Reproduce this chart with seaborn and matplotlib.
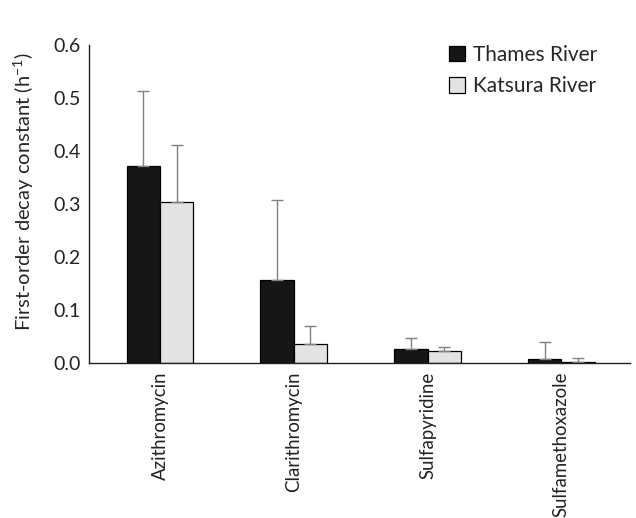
import numpy as np
import pandas as pd
import seaborn as sns
import matplotlib.pyplot as plt

sns.set_style('white')
plt.rcParams['font.family'] = ['Lato', 'DejaVu Sans']
plt.rcParams['mathtext.fontset'] = 'custom'
plt.rcParams['mathtext.rm'] = 'Lato'

# data
compounds = ['Azithromycin', 'Clarithromycin', 'Sulfapyridine', 'Sulfamethoxazole']
thames = [0.372, 0.156, 0.027, 0.007]
thames_err = [0.141, 0.152, 0.021, 0.033]
katsura = [0.304, 0.036, 0.022, 0.003]
katsura_err = [0.107, 0.034, 0.009, 0.006]

df = pd.DataFrame({
    'compound': compounds * 2,
    'river': ['Thames River'] * 4 + ['Katsura River'] * 4,
    'k': thames + katsura,
})

fig = plt.figure(figsize=(6.36, 5.18), dpi=100)
ax = fig.add_axes([0.14, 0.299, 0.85, 0.614])

sns.barplot(data=df, x='compound', y='k', hue='river', ax=ax,
            palette=['#161616', '#e3e3e3'], width=0.5, gap=0,
            edgecolor='black', linewidth=0.9, errorbar=None, saturation=1)

# upward-only error bars
for cont, err in zip(ax.containers, [thames_err, katsura_err]):
    xs = [p.get_x() + p.get_width() / 2 for p in cont]
    hs = [p.get_height() for p in cont]
    ax.errorbar(xs, hs, yerr=[np.zeros(len(err)), err], fmt='none',
                ecolor='#808080', elinewidth=1, capsize=4, capthick=1)

ax.set_ylim(0, 0.6)
ax.set_xlim(-0.53, 3.51)
ax.set_yticks(np.arange(0, 0.61, 0.1))
ax.set_yticklabels([f'{v:.1f}' for v in np.arange(0, 0.61, 0.1)])
ax.set_xlabel('')
ax.set_ylabel(r'First-order decay constant (h$^{\mathregular{-1}}$)', fontsize=14.5)
ax.yaxis.set_label_coords(-0.098, 0.54)
ax.tick_params(axis='both', length=0, labelsize=14, colors='#222222')
ax.tick_params(axis='y', pad=6)
ax.tick_params(axis='x', pad=6, labelsize=13.4)
plt.setp(ax.get_xticklabels(), rotation=90, va='top', ha='center')

for s in ['top', 'right']:
    ax.spines[s].set_visible(False)
for s in ['left', 'bottom']:
    ax.spines[s].set_color('#222222')
    ax.spines[s].set_linewidth(1)

ax.legend(title=None, frameon=False, fontsize=15, loc='upper right',
          bbox_to_anchor=(0.975, 1.06), handlelength=0.75, handleheight=0.75,
          handletextpad=0.4, labelspacing=0.55)

fig.savefig('out.png', dpi=100)
